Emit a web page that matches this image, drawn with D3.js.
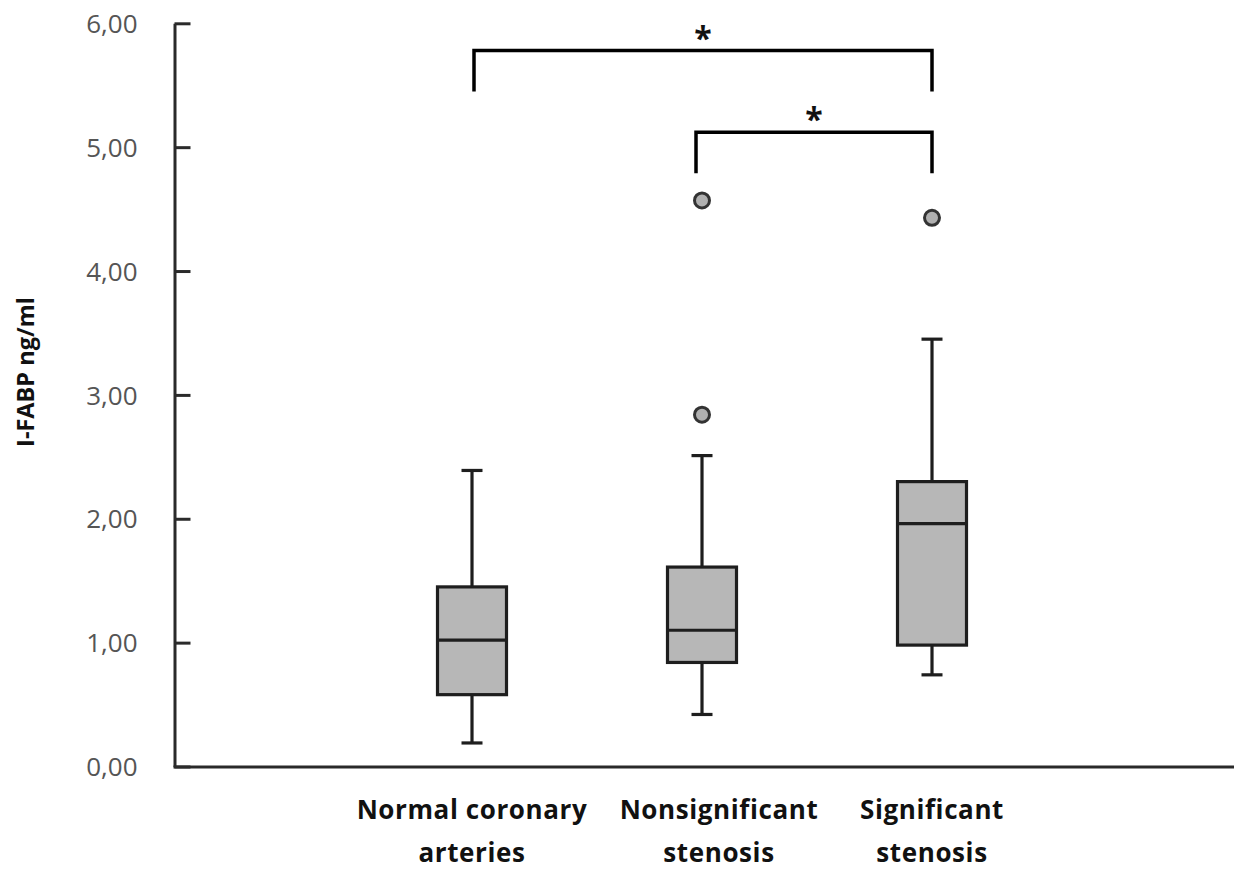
<!DOCTYPE html>
<html>
<head>
<meta charset="utf-8">
<script src="https://cdn.jsdelivr.net/npm/d3@7"></script>
<style>
  html, body { margin: 0; padding: 0; background: #fff; }
  svg { display: block; }
</style>
</head>
<body>
<svg id="chart" width="1234" height="869"></svg>
<script>
// ---- data ----
const categories = ["Normal coronary arteries", "Nonsignificant stenosis", "Significant stenosis"];
const labelLines = [["Normal coronary", "arteries"], ["Nonsignificant", "stenosis"], ["Significant", "stenosis"]];
const whiskerLow  = [0.19, 0.42, 0.74];
const q1          = [0.58, 0.84, 0.98];
const median      = [1.02, 1.10, 1.96];
const q3          = [1.45, 1.61, 2.30];
const whiskerHigh = [2.39, 2.51, 3.45];
const outliers    = [[], [4.57, 2.84], [4.43]];
const yTicks      = [0, 1, 2, 3, 4, 5, 6];
const yTitle      = "I-FABP ng/ml";
const bracketFrom = [0, 1];
const bracketTo   = [2, 2];
const bracketTop  = [5.78, 5.12];
const bracketLeg  = [5.45, 4.79];
const bracketText = ["*", "*"];

// ---- layout ----
const svg = d3.select("#chart");
const axisX = 174.5;
const y = d3.scaleLinear().domain([0, 6]).range([766.5, 23.3]);
const x = d3.scaleBand().domain(categories).range([357, 1047]).paddingInner(0.7).paddingOuter(0.35);
const cx = i => x(categories[i]) + x.bandwidth() / 2;
const labelShift = [0, 17, 0];
const bracketShift = [[2, 0], [-6, 0]];
const ink = "#1e1e1e";

// Y axis
const yAxis = d3.axisLeft(y).tickValues(yTicks).tickSizeInner(-16).tickSizeOuter(0).tickPadding(37)
  .tickFormat(d => d3.format(".2f")(d).replace(".", ","));
const gy = svg.append("g").attr("transform", `translate(${axisX},0)`).call(yAxis);
gy.select(".domain").attr("stroke", "#2a2a2a").attr("stroke-width", 3);
gy.selectAll(".tick line").attr("stroke", "#2a2a2a").attr("stroke-width", 3);
gy.selectAll(".tick text").attr("fill", "#555").attr("font-family", "'Open Sans', sans-serif")
  .attr("font-size", 26).attr("dy", "0.35em");

// X axis line
const xAxis = d3.axisBottom(d3.scaleLinear().range([axisX - 1.5, 1234])).ticks(0).tickSizeOuter(0);
const gx = svg.append("g").attr("transform", `translate(0,${y(0)})`).call(xAxis);
gx.select(".domain").attr("stroke", "#2a2a2a").attr("stroke-width", 3);
gx.selectAll(".tick").remove();

// category labels
categories.forEach((c, i) => {
  const t = svg.append("text")
    .attr("text-anchor", "middle")
    .attr("font-family", "'Open Sans', sans-serif")
    .attr("font-weight", "bold")
    .attr("font-size", 26)
    .attr("letter-spacing", 0.6)
    .attr("fill", "#111");
  labelLines[i].forEach((line, j) => {
    t.append("tspan").attr("x", cx(i) + labelShift[i]).attr("y", 819 + j * 43).text(line);
  });
});

// Y title
svg.append("text")
  .attr("transform", `translate(34,372) rotate(-90)`)
  .attr("text-anchor", "middle")
  .attr("font-family", "'Open Sans', sans-serif")
  .attr("font-weight", "bold")
  .attr("font-size", 23.5)
  .attr("fill", "#111")
  .text(yTitle);

// boxes
const capW = 21;
const g = svg.append("g").attr("stroke", ink).attr("stroke-width", 3.2);
categories.forEach((c, i) => {
  const xc = cx(i), bw = x.bandwidth();
  // whiskers
  g.append("line").attr("x1", xc).attr("x2", xc).attr("y1", y(q3[i])).attr("y2", y(whiskerHigh[i]));
  g.append("line").attr("x1", xc).attr("x2", xc).attr("y1", y(q1[i])).attr("y2", y(whiskerLow[i]));
  g.append("line").attr("x1", xc - capW / 2).attr("x2", xc + capW / 2).attr("y1", y(whiskerHigh[i])).attr("y2", y(whiskerHigh[i]));
  g.append("line").attr("x1", xc - capW / 2).attr("x2", xc + capW / 2).attr("y1", y(whiskerLow[i])).attr("y2", y(whiskerLow[i]));
  // box
  g.append("rect").attr("x", x(c)).attr("width", bw)
    .attr("y", y(q3[i])).attr("height", y(q1[i]) - y(q3[i]))
    .attr("fill", "#b7b7b7");
  g.append("line").attr("x1", x(c)).attr("x2", x(c) + bw).attr("y1", y(median[i])).attr("y2", y(median[i]));
  // outliers
  outliers[i].forEach(v => {
    g.append("circle").attr("cx", xc).attr("cy", y(v)).attr("r", 7.5)
      .attr("fill", "#b0b0b0").attr("stroke", "#333").attr("stroke-width", 3);
  });
});

// significance brackets
bracketFrom.forEach((f, k) => {
  const x1 = cx(f) + bracketShift[k][0], x2 = cx(bracketTo[k]) + bracketShift[k][1];
  svg.append("path")
    .attr("d", d3.line()([[x1, y(bracketLeg[k])], [x1, y(bracketTop[k])], [x2, y(bracketTop[k])], [x2, y(bracketLeg[k])]]))
    .attr("fill", "none").attr("stroke", "#000").attr("stroke-width", 3.5);
  svg.append("text")
    .attr("x", (x1 + x2) / 2).attr("y", y(bracketTop[k]) - 1)
    .attr("text-anchor", "middle")
    .attr("font-family", "'Open Sans', sans-serif")
    .attr("font-weight", "bold")
    .attr("font-size", 32)
    .attr("fill", "#111")
    .text(bracketText[k]);
});
</script>
</body>
</html>
